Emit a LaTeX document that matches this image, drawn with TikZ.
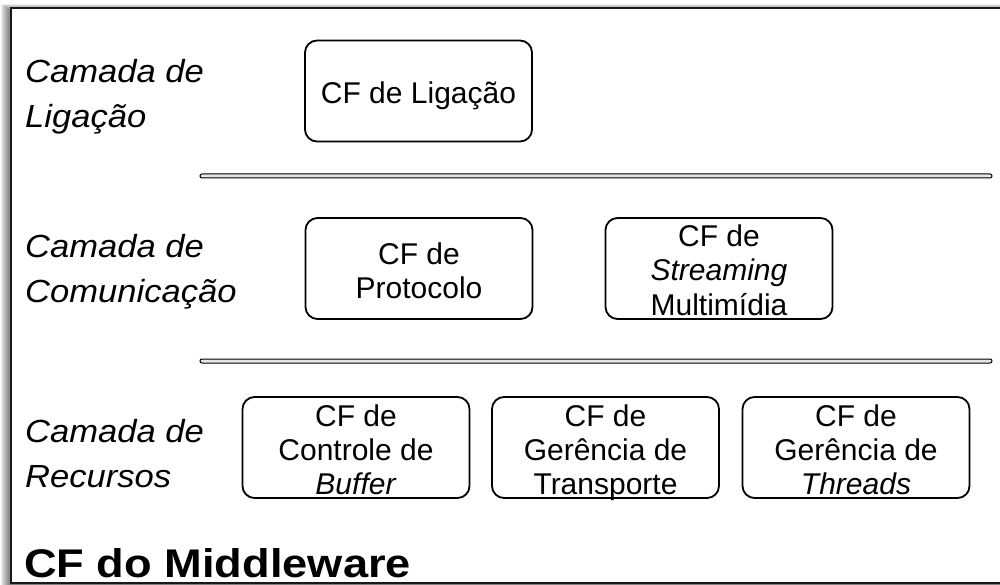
\documentclass[tikz,border=0pt]{standalone}
\usepackage{fontspec}
\setmainfont{Liberation Sans}
\newfontfamily\layerfont[FakeStretch=1.08]{Liberation Sans}
\newfontfamily\titlefont[FakeStretch=1.13]{Liberation Sans}

% centred lines, 34pt apart, in a box of no size whose reference point
% is the middle of the frame; #1 lifts the first baseline off that point
\newcommand\cflines[2]{%
  \smash{\raisebox{#1}{\vtop{\baselineskip=34pt\lineskiplimit=-100pt
    \halign{\hfil\smash{##}\hfil\cr#2\crcr}}}}}
% left-aligned lines, 45pt apart, baseline on the first line
\newcommand\layerlines[1]{%
  \vtop{\baselineskip=45pt\lineskiplimit=-100pt
    \halign{\smash{##}\hfil\cr#1\crcr}}}

\begin{document}
\begin{tikzpicture}[x=1pt,y=-1pt,
  cfbox/.style={draw=black, line width=1.8pt, rounded corners=12pt,
    minimum width=227pt, minimum height=101pt, inner sep=0pt,
    font=\fontsize{30}{34}\selectfont},
  layer/.style={anchor=base west, inner sep=0pt,
    font=\layerfont\itshape\fontsize{32}{45}\selectfont},
  sepbar/.style={draw=black, line width=1pt, fill=gray!20, rounded corners=2pt}]

\useasboundingbox (0,0) rectangle (1000,585);

% soft shadow of the outer frame
\foreach \k in {1,...,10}
  \fill[black, opacity=0.065] (11-\k, 11-0.7*\k) rectangle (1030,600);

% outer frame
\draw[line width=2.2pt, draw=black!90, fill=white] (11,8) rectangle (1030,583);

% layer separators
\draw[sepbar] (200,174) rectangle (992,178);
\draw[sepbar] (200,359) rectangle (992,363);

% layer names
\node[layer] (llig) at (25,83)  {\layerlines{Camada de\cr Ligação}};
\node[layer] (lcom) at (25,257) {\layerlines{Camada de\cr Comunicação}};
\node[layer] (lrec) at (25,442) {\layerlines{Camada de\cr Recursos}};

% component frameworks
\node[cfbox] (lig)  at (418.5,91)    {\cflines{-12.5pt}{CF de Ligação}};
\node[cfbox] (prot) at (419,268.5)   {\cflines{4.5pt}{CF de\cr Protocolo}};
\node[cfbox] (strm) at (719,268.5)   {\cflines{21.5pt}{CF de\cr \textit{Streaming}\cr Multimídia}};
\node[cfbox] (buf)  at (356,447.5)   {\cflines{21.5pt}{CF de\cr Controle de\cr \textit{Buffer}}};
\node[cfbox] (trp)  at (605.5,447.5) {\cflines{21.5pt}{CF de\cr Gerência de\cr Transporte}};
\node[cfbox] (thr)  at (856,447.5)   {\cflines{21.5pt}{CF de\cr Gerência de\cr \textit{Threads}}};

% title
\node[anchor=base west, inner sep=0pt,
  font=\titlefont\bfseries\fontsize{40}{48}\selectfont] (title) at (24,577) {CF do Middleware};
\end{tikzpicture}
\end{document}
